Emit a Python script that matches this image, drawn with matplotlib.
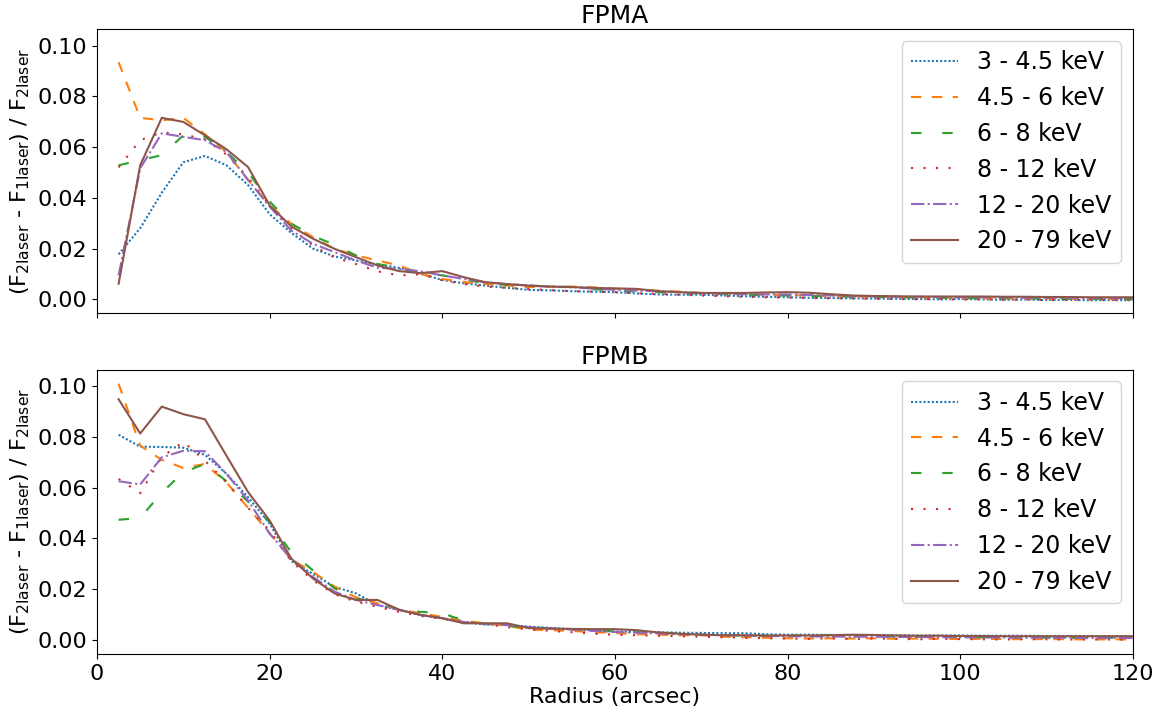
import numpy as np
import matplotlib
matplotlib.use("Agg")
import matplotlib.pyplot as plt

plt.rcParams["font.size"] = 16

radius = np.arange(2.5, 120.1, 2.5)

bands = ["3 - 4.5 keV", "4.5 - 6 keV", "6 - 8 keV", "8 - 12 keV", "12 - 20 keV", "20 - 79 keV"]

# FPMA
fpma_3_45 = [0.0177, 0.028, 0.042, 0.054, 0.0565, 0.0528, 0.045, 0.0335, 0.0262, 0.0200, 0.0169, 0.0153,
             0.0137, 0.0124, 0.0100, 0.0076, 0.0063, 0.0054, 0.0045, 0.0037, 0.0035, 0.0032, 0.0030, 0.0028,
             0.0023, 0.0019, 0.0018, 0.0018, 0.0015, 0.0012, 0.0010, 0.0008, 0.0006, 0.0005, 0.0004, 0.0003,
             0.0002, 0.0001, 0.0000, 0.0001, 0.0000, -0.0002, -0.0001, -0.0003, -0.0002, -0.0004, -0.0003, -0.0004]
fpma_45_6 = [0.0934, 0.0715, 0.0705, 0.0715, 0.065, 0.058, 0.047, 0.037, 0.0298, 0.0245, 0.0199, 0.0173,
             0.0153, 0.0133, 0.0100, 0.0080, 0.0068, 0.0060, 0.0054, 0.0048, 0.0050, 0.0050, 0.0047, 0.0041,
             0.0038, 0.0034, 0.0030, 0.0025, 0.0022, 0.0020, 0.0018, 0.0016, 0.0015, 0.0013, 0.0011, 0.0010,
             0.0009, 0.0008, 0.0006, 0.0005, 0.0004, 0.0003, 0.0003, 0.0002, 0.0002, 0.0001, 0.0001, 0.0000]
fpma_6_8 = [0.0528, 0.0548, 0.0568, 0.0646, 0.0640, 0.058, 0.050, 0.0385, 0.0298, 0.0250, 0.0215, 0.0173,
            0.0139, 0.0124, 0.0107, 0.0094, 0.0080, 0.0060, 0.0057, 0.0054, 0.0051, 0.0048, 0.0040, 0.0034,
            0.0031, 0.0028, 0.0025, 0.0023, 0.0020, 0.0018, 0.0016, 0.0015, 0.0013, 0.0012, 0.0010, 0.0009,
            0.0008, 0.0007, 0.0006, 0.0005, 0.0004, 0.0004, 0.0003, 0.0003, 0.0002, 0.0002, 0.0001, 0.0001]
fpma_8_12 = [0.052, 0.0627, 0.0658, 0.0650, 0.063, 0.057, 0.048, 0.037, 0.028, 0.0212, 0.0165, 0.0139,
             0.0110, 0.0094, 0.0099, 0.0075, 0.0060, 0.0050, 0.0045, 0.0041, 0.0036, 0.0032, 0.0030, 0.0028,
             0.0024, 0.0021, 0.0018, 0.0015, 0.0012, 0.0010, 0.0008, 0.0007, 0.0005, 0.0004, 0.0003, 0.0002,
             0.0001, 0.0000, 0.0001, -0.0001, 0.0000, -0.0002, -0.0001, -0.0003, -0.0002, -0.0001, -0.0003, -0.0002]
fpma_12_20 = [0.0094, 0.0516, 0.0654, 0.064, 0.0627, 0.058, 0.047, 0.0365, 0.0271, 0.0219, 0.0186, 0.0153,
              0.0124, 0.0120, 0.0110, 0.0094, 0.0080, 0.0067, 0.0060, 0.0054, 0.0050, 0.0048, 0.0042, 0.0037,
              0.0034, 0.0032, 0.0028, 0.0024, 0.0022, 0.0020, 0.0019, 0.0019, 0.0017, 0.0015, 0.0013, 0.0011,
              0.0010, 0.0010, 0.0009, 0.0008, 0.0008, 0.0007, 0.0006, 0.0006, 0.0005, 0.0005, 0.0004, 0.0004]
fpma_20_79 = [0.0061, 0.0528, 0.0715, 0.0699, 0.0646, 0.0591, 0.0521, 0.037, 0.0287, 0.0239, 0.0199, 0.0166,
              0.0133, 0.0111, 0.0103, 0.0111, 0.0087, 0.0067, 0.0060, 0.0054, 0.0050, 0.0048, 0.0045, 0.0043,
              0.0041, 0.0032, 0.0028, 0.0025, 0.0025, 0.0025, 0.0027, 0.0028, 0.0026, 0.0020, 0.0015, 0.0013,
              0.0012, 0.0011, 0.0011, 0.0011, 0.0011, 0.0010, 0.0010, 0.0009, 0.0009, 0.0008, 0.0008, 0.0008]

# FPMB
fpmb_3_45 = [0.0808, 0.0761, 0.0760, 0.0757, 0.0729, 0.0654, 0.0562, 0.0458, 0.031, 0.026, 0.0209, 0.0183,
             0.0137, 0.0118, 0.0098, 0.0085, 0.0070, 0.0060, 0.0058, 0.0052, 0.0047, 0.0042, 0.0037, 0.0033,
             0.0031, 0.0030, 0.0028, 0.0027, 0.0026, 0.0026, 0.0022, 0.0020, 0.0020, 0.0019, 0.0019, 0.0018,
             0.0018, 0.0017, 0.0017, 0.0017, 0.0016, 0.0016, 0.0016, 0.0015, 0.0015, 0.0015, 0.0014, 0.0014]
fpmb_45_6 = [0.1009, 0.0765, 0.0709, 0.0677, 0.0693, 0.062, 0.052, 0.042, 0.0316, 0.0268, 0.021, 0.0167,
             0.0144, 0.0118, 0.0105, 0.0090, 0.0075, 0.0065, 0.0055, 0.0040, 0.0038, 0.0035, 0.0030, 0.0027,
             0.0022, 0.0020, 0.0018, 0.0018, 0.0012, 0.0010, 0.0008, 0.0006, 0.0005, 0.0006, 0.0005, 0.0006,
             0.0004, 0.0005, 0.0004, 0.0003, 0.0004, 0.0003, 0.0002, 0.0003, 0.0002, 0.0001, 0.0002, 0.0001]
fpmb_6_8 = [0.0473, 0.048, 0.058, 0.066, 0.0693, 0.0625, 0.0544, 0.0464, 0.0345, 0.0274, 0.0203, 0.0163,
            0.015, 0.012, 0.011, 0.0105, 0.0075, 0.0062, 0.0055, 0.0048, 0.0045, 0.0040, 0.0038, 0.0033,
            0.0030, 0.0027, 0.0024, 0.0020, 0.0018, 0.0016, 0.0015, 0.0016, 0.0017, 0.0019, 0.0017, 0.0015,
            0.0013, 0.0012, 0.0011, 0.0011, 0.0010, 0.0010, 0.0009, 0.0009, 0.0008, 0.0008, 0.0008, 0.0007]
fpmb_8_12 = [0.0634, 0.0578, 0.072, 0.078, 0.0706, 0.062, 0.052, 0.043, 0.031, 0.0235, 0.018, 0.0150,
             0.0130, 0.0110, 0.0094, 0.0082, 0.0070, 0.0062, 0.0050, 0.0042, 0.0035, 0.0030, 0.0024, 0.0020,
             0.0018, 0.0016, 0.0014, 0.0012, 0.0010, 0.0008, 0.0006, 0.0005, 0.0004, 0.0006, 0.0003, 0.0005,
             0.0004, 0.0002, 0.0004, 0.0003, 0.0002, 0.0001, 0.0003, 0.0002, 0.0001, 0.0002, 0.0001, 0.0000]
fpmb_12_20 = [0.0625, 0.0612, 0.0719, 0.0745, 0.0743, 0.0654, 0.0549, 0.0418, 0.032, 0.0248, 0.019, 0.0157,
              0.0137, 0.0118, 0.0098, 0.0085, 0.0070, 0.0063, 0.0058, 0.0050, 0.0045, 0.0040, 0.0035, 0.0031,
              0.0028, 0.0025, 0.0022, 0.0020, 0.0018, 0.0016, 0.0015, 0.0014, 0.0013, 0.0013, 0.0012, 0.0012,
              0.0011, 0.0011, 0.0010, 0.0010, 0.0009, 0.0009, 0.0008, 0.0008, 0.0008, 0.0007, 0.0007, 0.0007]
fpmb_20_79 = [0.0948, 0.0813, 0.0919, 0.0889, 0.0869, 0.0725, 0.0582, 0.0470, 0.0320, 0.0242, 0.0183, 0.0157,
              0.0157, 0.0118, 0.0098, 0.0085, 0.0065, 0.0065, 0.0065, 0.0046, 0.0044, 0.0043, 0.0042, 0.0042,
              0.0038, 0.0029, 0.0024, 0.0020, 0.0018, 0.0018, 0.0017, 0.0017, 0.0017, 0.0018, 0.0020, 0.0019,
              0.0017, 0.0016, 0.0016, 0.0015, 0.0015, 0.0014, 0.0014, 0.0014, 0.0014, 0.0014, 0.0014, 0.0014]

fpma = [fpma_3_45, fpma_45_6, fpma_6_8, fpma_8_12, fpma_12_20, fpma_20_79]
fpmb = [fpmb_3_45, fpmb_45_6, fpmb_6_8, fpmb_8_12, fpmb_12_20, fpmb_20_79]

styles = [(0, (1, 1)), (0, (5, 5)), (0, (5, 10)), (0, (1, 5)), "-.", "-"]
colors = ["C0", "C1", "C2", "C3", "C4", "C5"]

fig, axes = plt.subplots(2, 1, figsize=(11.62, 7.15), dpi=100, sharex=True, sharey=True)
fig.subplots_adjust(left=0.0835, right=0.975, top=0.9594, bottom=0.0853, hspace=0.197)

ylabel = r"(F$_\mathrm{2laser}$ - F$_\mathrm{1laser}$) / F$_\mathrm{2laser}$"
for ax, data, title in zip(axes, [fpma, fpmb], ["FPMA", "FPMB"]):
    for vals, lab, ls, c in zip(data, bands, styles, colors):
        ax.plot(radius, vals, linestyle=ls, color=c, lw=1.5, label=lab)
    ax.set_title(title, fontsize=18, pad=4)
    ax.set_ylabel(ylabel)
    ax.legend(loc="upper right", fontsize=17)

axes[0].set_xlim(0, 120)
axes[0].set_ylim(-0.0056, 0.1065)
axes[1].set_xlabel("Radius (arcsec)", labelpad=2)

fig.savefig("out.png", dpi=100)
